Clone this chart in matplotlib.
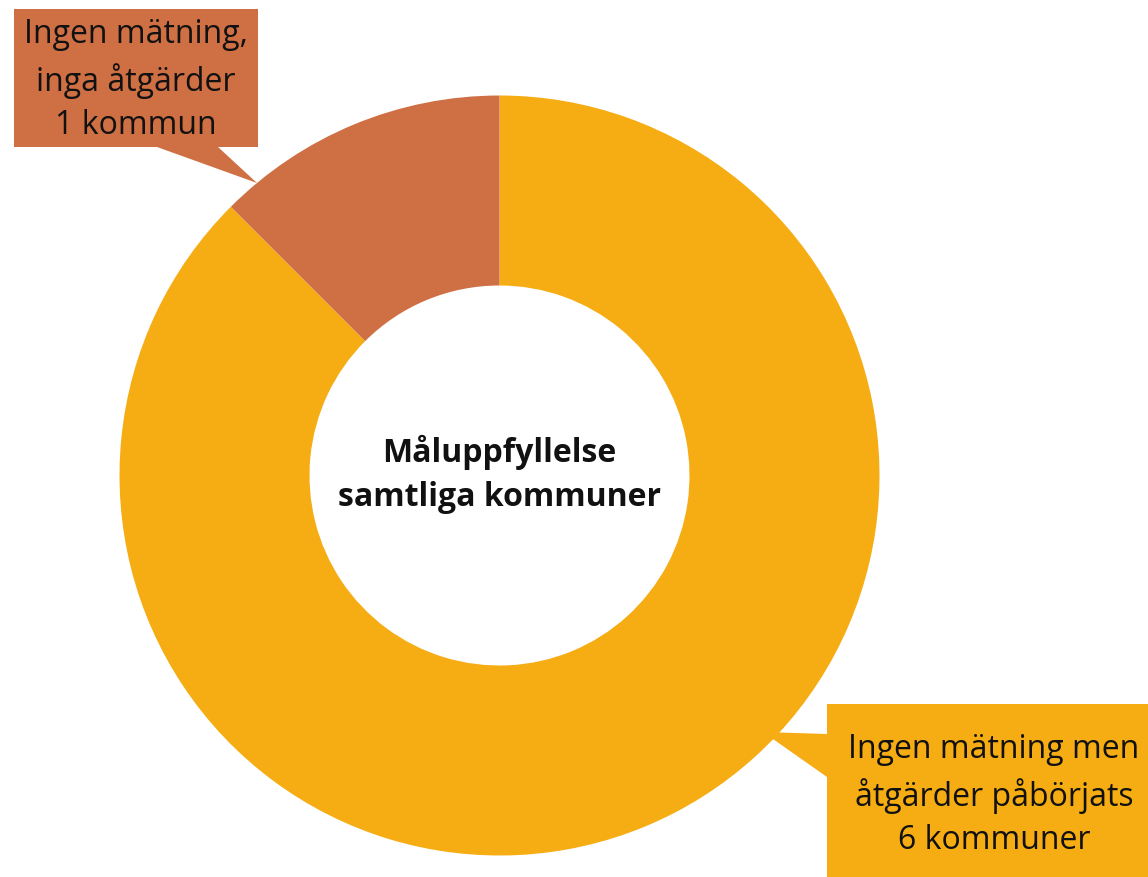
import matplotlib
matplotlib.use("Agg")
import matplotlib.pyplot as plt
from matplotlib.patches import Polygon

# Data
categories = ["Ingen mätning men\nåtgärder påbörjats", "Ingen mätning,\ninga åtgärder"]
counts = [6, 1]
shares = [87.5, 12.5]  # slice shares as drawn in the reference
colors = ["#F6AC13", "#CF7044"]
center_title = "Måluppfyllelse\nsamtliga kommuner"

plt.rcParams['font.family'] = ['Open Sans', 'DejaVu Sans']

W, H = 1148, 878
fig = plt.figure(figsize=(W / 100, H / 100), dpi=100)
ax = fig.add_axes([0, 0, 1, 1])

def Y(y):  # pixel-from-top to data
    return H - y

cx, cy, R = 499.5, Y(476.5), 380
ax.pie(shares, colors=colors, startangle=90, counterclock=False,
       center=(cx, cy), radius=R, frame=True,
       wedgeprops=dict(width=190, linewidth=0))
ax.set_xlim(0, W)
ax.set_ylim(0, H)
ax.set_aspect('equal')
ax.axis('off')

FS = 23
ax.text(cx, cy + 2, center_title, ha='center', va='center', fontsize=FS,
        fontweight='bold', color='#111111', linespacing=1.45)

def count_label(i):
    unit = "kommun" if counts[i] == 1 else "kommuner"
    return f"{categories[i]}\n{counts[i]} {unit}"

# Top-left callout (orange)
poly1 = Polygon([(14, Y(10)), (258, Y(10)), (258, Y(148)), (218, Y(148)),
                 (257, Y(184)), (157, Y(148)), (14, Y(148))],
                closed=True, facecolor=colors[1], edgecolor='none', zorder=3)
ax.add_patch(poly1)
ax.text(136, Y(80), count_label(1), ha='center', va='center', fontsize=FS,
        color='#111111', linespacing=1.42, zorder=4)

# Bottom-right callout (yellow)
poly2 = Polygon([(827, Y(705)), (1148, Y(705)), (1148, Y(878)), (827, Y(878)),
                 (827, Y(778)), (763, Y(733)), (827, Y(735))],
                closed=True, facecolor=colors[0], edgecolor='none', zorder=3)
ax.add_patch(poly2)
ax.text(994, Y(795), count_label(0), ha='center', va='center', fontsize=FS,
        color='#111111', linespacing=1.42, zorder=4)

fig.savefig("out.png", dpi=100)
